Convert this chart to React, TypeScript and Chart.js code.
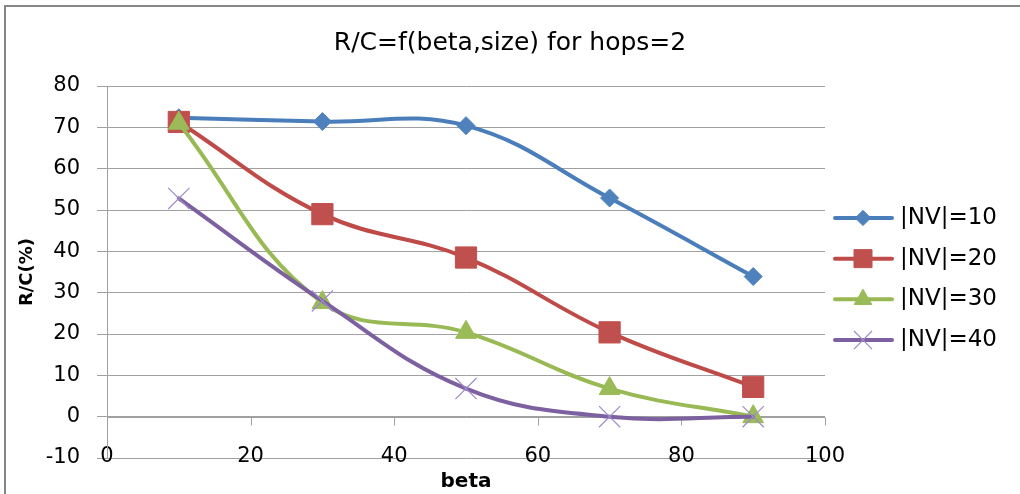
import React, { useEffect, useRef } from "react";
import { Chart, registerables } from "chart.js";
import { drawPoint } from "chart.js/helpers";

Chart.register(...registerables);

const xValues = [10, 30, 50, 70, 90];
const nv10 = [72.3, 71.4, 70.4, 52.9, 33.9];
const nv20 = [71.3, 49.0, 38.5, 20.4, 7.2];
const nv30 = [71.0, 27.6, 20.4, 6.8, 0];
const nv40 = [52.8, 28.0, 6.8, 0, 0];
const seriesLabels = ["|NV|=10", "|NV|=20", "|NV|=30", "|NV|=40"];
const chartTitle = "R/C=f(beta,size) for hops=2";
const xTitle = "beta";
const yTitle = "R/C(%)";
const xMin = 0, xMax = 100, xStep = 20;
const yMin = -10, yMax = 80, yStep = 10;

const FONT = "'DejaVu Sans', 'Noto Sans', sans-serif";

const styles = [
  { line: "#4A7EBB", fill: "#4F81BD", stroke: "#4F81BD", pointStyle: "rectRot", radius: 9, bw: 1 },
  { line: "#BE4B48", fill: "#C0504D", stroke: "#C0504D", pointStyle: "rect", radius: 15, bw: 1 },
  { line: "#98B954", fill: "#9BBB59", stroke: "#9BBB59", pointStyle: "triangle", radius: 12, bw: 1 },
  { line: "#7D60A0", fill: "#9F8BC8", stroke: "#9F8BC8", pointStyle: "crossRot", radius: 15, bw: 1.2 },
];

const seriesValues = [nv10, nv20, nv30, nv40];

const framePlugin = {
  id: "frame",
  beforeDraw(chart: any) {
    const ctx = chart.ctx;
    ctx.save();
    ctx.fillStyle = "#ffffff";
    ctx.fillRect(0, 0, chart.width, chart.height);
    ctx.strokeStyle = "#868686";
    ctx.lineWidth = 2;
    ctx.beginPath();
    ctx.moveTo(4, 6);
    ctx.lineTo(chart.width, 6);
    ctx.moveTo(5, 5);
    ctx.lineTo(5, chart.height);
    ctx.stroke();
    ctx.restore();
  },
};

const zeroAxisPlugin = {
  id: "zeroAxis",
  beforeDatasetsDraw(chart: any) {
    const ctx = chart.ctx;
    const xs = chart.scales.x;
    const ys = chart.scales.y;
    const y0 = Math.round(ys.getPixelForValue(0)) + 0.5;
    ctx.save();
    ctx.strokeStyle = "#a0a0a0";
    ctx.lineWidth = 1;
    ctx.beginPath();
    ctx.moveTo(chart.chartArea.left, y0);
    ctx.lineTo(chart.chartArea.right, y0);
    for (let v = xMin + xStep; v <= xMax; v += xStep) {
      const px = Math.round(xs.getPixelForValue(v)) + 0.5;
      ctx.moveTo(px, y0);
      ctx.lineTo(px, y0 + 8);
    }
    ctx.stroke();
    ctx.restore();
  },
};

const legendPlugin = {
  id: "lineLegend",
  afterDraw(chart: any) {
    const ctx = chart.ctx;
    const { right, top, bottom } = chart.chartArea;
    const cy = (top + bottom) / 2 + 7;
    const gap = 40.7;
    ctx.save();
    seriesLabels.forEach((label, i) => {
      const s = styles[i];
      const y = cy + (i - 1.5) * gap;
      ctx.strokeStyle = s.line;
      ctx.lineWidth = 4;
      ctx.lineCap = "round";
      ctx.beginPath();
      ctx.moveTo(right + 10, y);
      ctx.lineTo(right + 67, y);
      ctx.stroke();
      ctx.fillStyle = s.fill;
      ctx.strokeStyle = s.stroke;
      ctx.lineWidth = s.bw;
      ctx.lineCap = "butt";
      drawPoint(ctx, { pointStyle: s.pointStyle, radius: s.radius * 0.85, borderWidth: s.bw, rotation: 0 } as any, right + 38, y);
      ctx.fillStyle = "#000";
      ctx.font = `23px ${FONT}`;
      ctx.textBaseline = "middle";
      ctx.textAlign = "left";
      ctx.fillText(label, right + 75, y);
    });
    ctx.restore();
  },
};

export default function App() {
  const ref = useRef<HTMLCanvasElement>(null);
  useEffect(() => {
    document.body.style.margin = "0";
    const datasets = seriesValues.map((vals, i) => {
      const s = styles[i];
      return {
        label: seriesLabels[i],
        data: xValues.map((x, j) => ({ x, y: vals[j] })),
        borderColor: s.line,
        backgroundColor: s.fill,
        borderWidth: 4,
        borderCapStyle: "round",
        borderJoinStyle: "round",
        tension: 0.4,
        pointStyle: s.pointStyle,
        pointRadius: s.radius,
        pointBackgroundColor: s.fill,
        pointBorderColor: s.stroke,
        pointBorderWidth: s.bw,
        order: 4 - i,
        clip: false,
        yAxisID: "y",
      };
    });
    const chart = new Chart(ref.current as HTMLCanvasElement, {
      type: "line",
      data: { datasets: datasets as any },
      plugins: [framePlugin, zeroAxisPlugin, legendPlugin],
      options: {
        responsive: false,
        animation: false,
        devicePixelRatio: 1,
        layout: { padding: 0 },
        plugins: {
          legend: { display: false },
          tooltip: { enabled: false },
          title: {
            display: true,
            text: chartTitle,
            color: "#000",
            font: { family: FONT, size: 25, weight: "normal" },
            padding: { top: 28, bottom: 28 },
          },
        },
        scales: {
          x: {
            type: "linear",
            min: xMin,
            max: xMax,
            grid: { display: false, drawTicks: false },
            border: { display: false },
            ticks: {
              stepSize: xStep,
              color: "#000",
              font: { family: FONT, size: 21 },
              padding: -14,
              maxRotation: 0,
              autoSkip: false,
            },
            title: {
              display: true,
              text: xTitle,
              color: "#000",
              font: { family: FONT, size: 20, weight: "bold" },
              padding: { top: 0, bottom: 0 },
            },
            afterFit: (s: any) => {
              s.height = 36;
            },
            afterUpdate: (s: any) => {
              s._computeLabelArea = () => undefined;
            },
          },
          y: {
            min: yMin,
            max: yMax,
            grid: { color: "#a0a0a0", lineWidth: 1, drawTicks: true, tickLength: 10 },
            border: { display: true, color: "#a0a0a0" },
            ticks: {
              stepSize: yStep,
              color: "#000",
              font: { family: FONT, size: 21 },
              padding: 17,
            },
            title: {
              display: true,
              text: yTitle,
              color: "#000",
              font: { family: FONT, size: 18, weight: "bold" },
              padding: { top: 17, bottom: 0 },
            },
            afterFit: (s: any) => {
              s.width = 107;
            },
          },
          legendSpace: {
            type: "linear",
            position: "right",
            display: true,
            grid: { display: false, drawTicks: false },
            border: { display: false },
            ticks: { display: false },
            afterFit: (s: any) => {
              s.width = 195;
            },
          },
        },
      } as any,
    });
    return () => chart.destroy();
  }, []);
  return <canvas ref={ref} width={1020} height={494} style={{ display: "block" }} />;
}
